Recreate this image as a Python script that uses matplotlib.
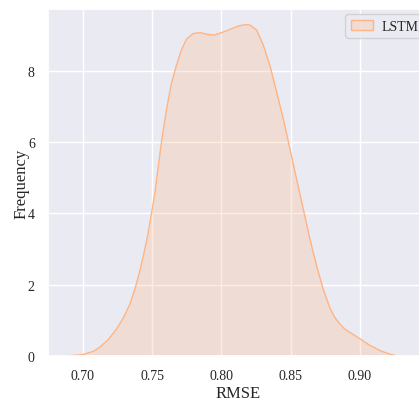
import matplotlib
matplotlib.use("Agg")
import matplotlib.pyplot as plt
from matplotlib.patches import Patch
import seaborn as sns

# KDE of LSTM RMSE, density values
rmse = [0.688, 0.700, 0.7077, 0.7125, 0.7185, 0.7245, 0.7295, 0.734, 0.7377,
        0.7410, 0.7440, 0.7470, 0.7495, 0.7522, 0.7545, 0.7568, 0.7604, 0.764,
        0.7676, 0.7712, 0.7748, 0.7796, 0.7844, 0.7895, 0.795, 0.8003, 0.8045,
        0.8087, 0.813, 0.8171, 0.8206, 0.8254, 0.8302, 0.835, 0.8398, 0.8446,
        0.8494, 0.8542, 0.859, 0.8638, 0.8686, 0.8734, 0.8782, 0.882, 0.8856,
        0.8892, 0.8952, 0.900, 0.907, 0.9145, 0.9217, 0.927]
density = [0.0, 0.04, 0.13, 0.25, 0.46, 0.76, 1.08, 1.45, 1.88,
           2.35, 2.85, 3.40, 3.97, 4.60, 5.30, 6.00, 6.90, 7.65,
           8.15, 8.58, 8.88, 9.04, 9.07, 9.02, 9.00, 9.07, 9.13,
           9.20, 9.26, 9.29, 9.28, 9.14, 8.72, 8.15, 7.41, 6.66,
           5.81, 4.97, 4.13, 3.29, 2.54, 1.88, 1.35, 1.07, 0.89,
           0.75, 0.60, 0.48, 0.30, 0.15, 0.05, 0.0]
label = "LSTM"

sns.set_theme(style="darkgrid")
plt.rcParams["font.family"] = ["Liberation Serif", "DejaVu Serif"]

color = sns.color_palette("pastel")[1]

fig = plt.figure(figsize=(4.19, 4.02), dpi=100)
ax = fig.add_axes([48 / 419, 45 / 402, 380 / 419, 347 / 402])

ax.fill_between(rmse, density, color=color, alpha=0.25, linewidth=0)
ax.plot(rmse, density, color=color, linewidth=1.0, solid_joinstyle="round")

ax.set_xlim(0.675, 0.949)
ax.set_ylim(0, 9.73)
ax.set_xticks([0.70, 0.75, 0.80, 0.85, 0.90])
ax.set_xticklabels(["0.70", "0.75", "0.80", "0.85", "0.90"])
ax.set_yticks([0, 2, 4, 6, 8])
ax.tick_params(labelsize=10)
ax.set_xlabel("RMSE", fontsize=12, labelpad=2)
ax.set_ylabel("Frequency", fontsize=12, labelpad=-1)

handle = Patch(facecolor=(*color, 0.25), edgecolor=color, linewidth=1.0)
ax.legend([handle], [label], loc="upper left", fontsize=10,
          handlelength=1.6, handletextpad=0.6, borderaxespad=0,
          bbox_to_anchor=(345 / 419, 1 - 15 / 402),
          bbox_transform=fig.transFigure)

fig.savefig("out.png", dpi=100)
